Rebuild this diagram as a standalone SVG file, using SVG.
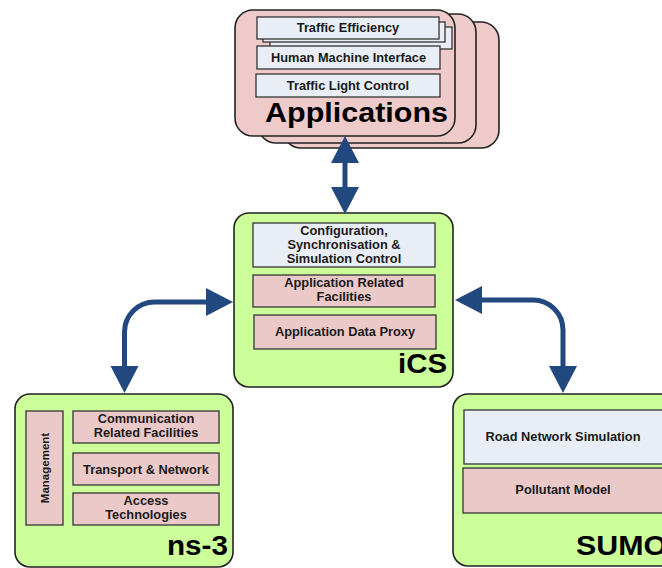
<svg xmlns="http://www.w3.org/2000/svg" width="662" height="568" viewBox="0 0 662 568">
<defs>
<style>
.card{fill:#eecaca;stroke:#222;stroke-width:1.6}
.green{fill:#ccfe9a;stroke:#222;stroke-width:1.6}
.pink{fill:#ecc9c9;stroke:#333;stroke-width:1.3}
.blue{fill:#e9eef6;stroke:#333;stroke-width:1.3}
.t{font-family:"Liberation Sans",Arial,sans-serif;font-weight:bold;font-size:12.8px;fill:#1a1a1a;text-anchor:middle}
.big{font-family:"Liberation Sans",Arial,sans-serif;font-weight:bold;font-size:28px;fill:#000}
.conn{fill:none;stroke:#22497f;stroke-width:5}
</style>
<marker id="ah" markerUnits="userSpaceOnUse" markerWidth="28" markerHeight="30" refX="0" refY="14" orient="auto-start-reverse" viewBox="0 0 28 28">
<path d="M0,0 L27,14 L0,28 z" fill="#22497f"/>
</marker>
</defs>

<g id="applications">
<rect class="card" x="283" y="22" width="216" height="126" rx="18"/>
<rect class="card" x="258" y="14" width="218" height="129" rx="18"/>
<rect class="card" x="235" y="10" width="220" height="126" rx="18"/>
<rect class="blue" x="270" y="27" width="182" height="22"/>
<rect class="blue" x="263" y="22" width="182" height="20"/>
<rect class="blue" x="257" y="17" width="182" height="22"/>
<text class="t" x="348" y="32">Traffic Efficiency</text>
<rect class="blue" x="257" y="46" width="183" height="23"/>
<text class="t" x="348.5" y="62">Human Machine Interface</text>
<rect class="blue" x="256" y="74" width="184" height="23"/>
<text class="t" x="348" y="90">Traffic Light Control</text>
<text class="big" x="265" y="122" textLength="183" lengthAdjust="spacingAndGlyphs">Applications</text>
</g>

<g id="ics">
<rect class="green" x="234" y="213" width="219" height="174" rx="15"/>
<rect class="blue" x="253" y="223" width="182" height="44"/>
<text class="t" x="344" y="235">Configuration,</text>
<text class="t" x="344" y="248.5">Synchronisation &amp;</text>
<text class="t" x="344" y="262.5">Simulation Control</text>
<rect class="pink" x="253" y="275" width="182" height="32"/>
<text class="t" x="344" y="287">Application Related</text>
<text class="t" x="344" y="301">Facilities</text>
<rect class="pink" x="254" y="315" width="182" height="34"/>
<text class="t" x="345" y="336">Application Data Proxy</text>
<text class="big" x="398" y="373" textLength="49" lengthAdjust="spacingAndGlyphs">iCS</text>
</g>

<g id="ns3">
<rect class="green" x="15" y="394" width="218" height="173" rx="15"/>
<rect class="pink" x="26" y="411" width="37" height="114"/>
<text class="t" style="font-size:11.5px" transform="translate(48.5,468) rotate(-90)" x="0" y="0">Management</text>
<rect class="pink" x="73" y="411" width="146" height="32"/>
<text class="t" x="146" y="423">Communication</text>
<text class="t" x="146" y="437">Related Facilities</text>
<rect class="pink" x="73" y="453" width="146" height="32"/>
<text class="t" x="146" y="473.5">Transport &amp; Network</text>
<rect class="pink" x="73" y="493" width="146" height="32"/>
<text class="t" x="146" y="505">Access</text>
<text class="t" x="146" y="519">Technologies</text>
<text class="big" x="167" y="555" textLength="61" lengthAdjust="spacingAndGlyphs">ns-3</text>
</g>

<g id="sumo">
<rect class="green" x="453" y="394" width="230" height="172" rx="15"/>
<rect class="blue" x="464" y="410" width="210" height="54"/>
<text class="t" x="563" y="440.5">Road Network Simulation</text>
<rect class="pink" x="463" y="468" width="211" height="45"/>
<text class="t" x="563" y="493.5">Pollutant Model</text>
<text class="big" x="576" y="555" textLength="91" lengthAdjust="spacingAndGlyphs">SUMO</text>
</g>

<g id="connectors">
<path class="conn" d="M345,163 V187" marker-start="url(#ah)" marker-end="url(#ah)"/>
<path class="conn" d="M124.5,366 V332 A30,30 0 0 1 154.5,302 H206" marker-start="url(#ah)" marker-end="url(#ah)"/>
<path class="conn" d="M482,300 H533 A30,30 0 0 1 563,330 V366" marker-start="url(#ah)" marker-end="url(#ah)"/>
</g>
</svg>
